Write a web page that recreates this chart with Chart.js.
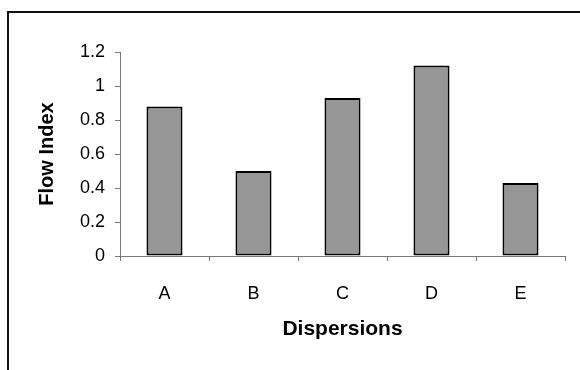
<!DOCTYPE html>
<html>
<head>
<meta charset="utf-8">
<script src="https://cdn.jsdelivr.net/npm/chart.js@4"></script>
<style>
	html, body { margin: 0; padding: 0; background: #ffffff; overflow: hidden; }
</style>
</head>
<body>
<canvas id="flowChart" width="580" height="370"></canvas>
<script>
// Chart data
const dispersions = ["A", "B", "C", "D", "E"];
const flowIndex = [0.88, 0.5, 0.93, 1.12, 0.43];
const yTickLabels = ["0", "0.2", "0.4", "0.6", "0.8", "1", "1.2"];

const axisGrey = "#777777";

// Outer frame (top and left edges of the original chart box)
const framePlugin = {
	id: "outerFrame",
	afterDraw: function (chart) {
		const ctx = chart.ctx;
		ctx.save();
		ctx.fillStyle = "#111111";
		ctx.fillRect(7, 11, chart.width - 7, 2);
		ctx.fillRect(7, 11, 2, chart.height - 11);
		ctx.restore();
	},
};

const flowChart = new Chart(document.getElementById("flowChart").getContext("2d"), {
	type: "bar",
	data: {
		labels: dispersions,
		datasets: [
			{
				data: flowIndex,
				backgroundColor: "#969696",
				borderColor: "#000000",
				borderWidth: 2,
				borderSkipped: false,
				barPercentage: 0.405,
				categoryPercentage: 1,
			},
		],
	},
	options: {
		responsive: false,
		animation: false,
		layout: {
			padding: { left: 0, top: 52, right: 15, bottom: 0 },
		},
		plugins: {
			legend: { display: false },
			tooltip: { enabled: false },
		},
		scales: {
			x: {
				grid: {
					offset: true,
					drawOnChartArea: false,
					tickLength: 5,
					color: axisGrey,
				},
				border: { color: axisGrey, width: 1 },
				ticks: {
					color: "#000000",
					padding: 22,
					font: { family: "Liberation Sans, Arial, sans-serif", size: 18 },
				},
				title: {
					display: true,
					text: "Dispersions",
					color: "#000000",
					padding: { top: 0, bottom: 28 },
					font: { family: "Liberation Sans, Arial, sans-serif", size: 21, weight: "bold" },
				},
				afterFit: function (scale) {
					scale.height = 114;
				},
			},
			y: {
				min: 0,
				max: 1.2,
				grid: {
					drawOnChartArea: false,
					tickLength: 5,
					color: axisGrey,
				},
				border: { color: axisGrey, width: 1 },
				ticks: {
					stepSize: 0.2,
					color: "#000000",
					padding: 10,
					font: { family: "Liberation Sans, Arial, sans-serif", size: 18 },
					callback: function (value, index) {
						return yTickLabels[index];
					},
				},
				title: {
					display: true,
					text: "Flow Index",
					color: "#000000",
					padding: { top: 35, bottom: 0 },
					font: { family: "Liberation Sans, Arial, sans-serif", size: 20, weight: "bold" },
				},
				afterFit: function (scale) {
					scale.width = 120;
				},
			},
		},
	},
	plugins: [framePlugin],
});
</script>
</body>
</html>
